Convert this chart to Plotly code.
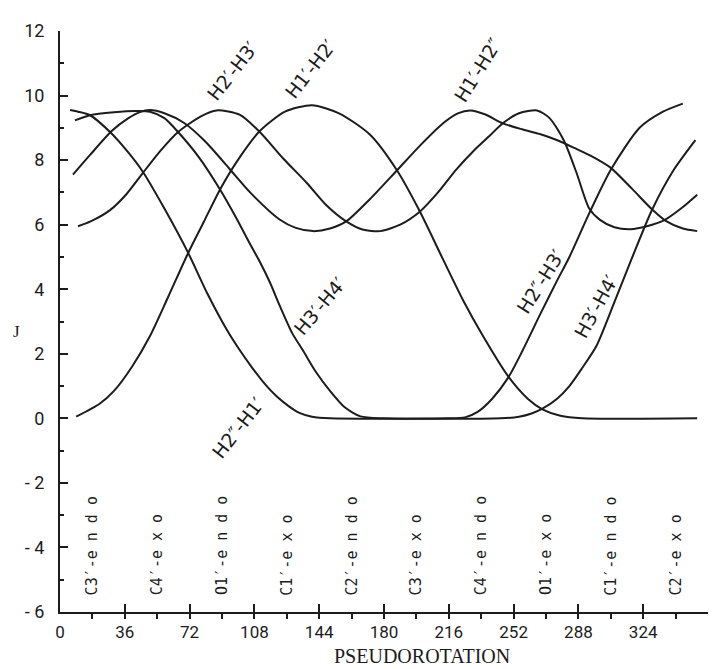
import plotly.graph_objects as go

# ---- data (P in degrees, J in Hz) ----
h1h2_P = [9, 22, 30, 40, 50, 60, 71, 80, 89, 100, 111, 125, 140, 155, 172, 187, 200, 213, 224, 235, 249, 260, 268, 278, 290, 354]
h1h2_J = [0.05, 0.45, 0.85, 1.6, 2.55, 3.75, 5.1, 6.1, 7.1, 8.1, 8.9, 9.5, 9.7, 9.45, 8.8, 7.7, 6.4, 4.9, 3.65, 2.55, 1.3, 0.6, 0.28, 0.08, 0, 0]

h2bh3_P = [5.6, 10, 16.7, 27.8, 37, 46, 58, 71, 82, 92.6, 100, 107, 114, 120, 127, 133, 140, 150, 215, 225, 232, 240, 249, 257, 267, 276, 283, 294, 306, 322, 335, 346]
h2bh3_J = [9.55, 9.5, 9.39, 8.87, 8.3, 7.64, 6.5, 5.15, 3.85, 2.75, 2.1, 1.55, 1.05, 0.7, 0.38, 0.17, 0.05, 0, 0, 0.03, 0.2, 0.6, 1.26, 2.1, 3.25, 4.25, 5.0, 6.35, 7.7, 9.0, 9.5, 9.75]

h3h4_P = [8.3, 16.7, 30, 42, 50, 58, 65.6, 77, 88.9, 98, 105.6, 111, 116.7, 122, 129, 135, 142, 150, 158, 167, 180, 245, 255, 262, 268, 276, 283, 290, 298, 308, 318, 329, 341, 353]
h3h4_J = [9.23, 9.39, 9.48, 9.52, 9.5, 9.3, 8.87, 8.1, 7.09, 6.2, 5.4, 4.85, 4.2, 3.5, 2.64, 2.1, 1.45, 0.85, 0.35, 0.06, 0, 0, 0.05, 0.15, 0.3, 0.6, 1.0, 1.55, 2.24, 3.6, 5.0, 6.47, 7.7, 8.62]

h1h2b_P = [7.2, 16.7, 28.7, 38, 44, 50, 58, 69, 81, 94, 105.6, 122, 131, 140.6, 150, 159, 172, 187, 200, 213, 221, 228, 236, 246, 257, 267, 277, 286, 296, 306, 318, 329, 337, 346, 354]
h1h2b_J = [7.55, 8.16, 8.9, 9.3, 9.48, 9.55, 9.45, 9.15, 8.56, 7.74, 7.0, 6.16, 5.9, 5.8, 5.88, 6.1, 6.78, 7.67, 8.45, 9.15, 9.45, 9.54, 9.42, 9.14, 8.95, 8.8, 8.6, 8.37, 8.1, 7.76, 7.1, 6.47, 6.1, 5.88, 5.8]

h2h3_P = [10, 17, 27.8, 37, 46, 56, 65.6, 78, 87, 100, 111, 124, 137, 148, 159, 168, 178, 189, 200, 210, 220, 230, 239, 246, 255, 265, 272, 280, 287, 294, 300, 308, 317, 326, 336, 345, 354]
h2h3_J = [5.95, 6.1, 6.45, 6.95, 7.6, 8.3, 8.87, 9.35, 9.54, 9.4, 8.87, 8.05, 7.3, 6.6, 6.1, 5.85, 5.8, 6.0, 6.41, 7.0, 7.7, 8.3, 8.77, 9.14, 9.45, 9.54, 9.3, 8.6, 7.6, 6.5, 6.15, 5.92, 5.86, 5.95, 6.15, 6.5, 6.93]

x_ticks = [0, 36, 72, 108, 144, 180, 216, 252, 288, 324, 360]
y_ticks = [-6, -4, -2, 0, 2, 4, 6, 8, 10, 12]
y_ticktext = ["- 6", "- 4", "- 2", "0", "2", "4", "6", "8", "10", "12"]

conf_P = [18, 54, 90, 126, 162, 198, 234, 270, 306, 342]
conf_names = ["C3′-e n d o", "C4′-e x o", "O1′-e n d o", "C1′-e x o", "C2′-e n d o",
              "C3′-e x o", "C4′-e n d o", "O1′-e x o", "C1′-e n d o", "C2′-e x o"]

curve_labels = ["H2′-H3′", "H1′-H2′", "H1′-H2″", "H3′-H4′", "H2″-H3′", "H3′-H4′", "H2″-H1′"]
label_P = [95.6, 138.9, 232, 144.4, 266.7, 298, 98.9]
label_J = [10.77, 10.83, 10.8, 3.47, 4.23, 3.47, -0.31]
label_angle = [-52, -52, -58, -50, -58, -61, -52]

INK = "#1c1c1c"

fig = go.Figure()
for P, J in [(h1h2_P, h1h2_J), (h2bh3_P, h2bh3_J), (h3h4_P, h3h4_J),
             (h1h2b_P, h1h2b_J), (h2h3_P, h2h3_J)]:
    fig.add_trace(go.Scatter(x=P, y=J, mode="lines",
                             line=dict(color=INK, width=2, shape="spline", smoothing=0.7),
                             showlegend=False, hoverinfo="skip"))

for t, p, j, a in zip(curve_labels, label_P, label_J, label_angle):
    fig.add_annotation(x=p, y=j, text=t, textangle=a, showarrow=False,
                       font=dict(family="DejaVu Sans", size=19, color=INK))

for t, p in zip(conf_names, conf_P):
    fig.add_annotation(x=p, y=-5.55, text=t, textangle=-90, showarrow=False,
                       xanchor="center", yanchor="bottom",
                       font=dict(family="DejaVu Sans Mono", size=15, color=INK))

fig.add_annotation(xref="paper", x=-0.075, y=2.7, text="J", showarrow=False,
                   font=dict(family="Liberation Serif", size=17, color=INK))
fig.add_annotation(xref="x", yref="paper", x=201, y=-0.075, text="PSEUDOROTATION",
                   showarrow=False, yanchor="middle",
                   font=dict(family="Liberation Serif", size=20, color=INK))

fig.update_xaxes(range=[0, 360], tickvals=x_ticks, ticks="inside", ticklen=8, tickwidth=2,
                 tickcolor=INK, showline=True, linecolor=INK, linewidth=2,
                 showgrid=False, zeroline=False, ticklabelstandoff=4,
                 tickfont=dict(family="Roboto", size=17, color=INK),
                 minor=dict(tick0=0, dtick=18, ticks="outside", ticklen=5, tickwidth=1.5,
                            tickcolor=INK, showgrid=False))
fig.update_yaxes(range=[-6, 12], tickvals=y_ticks, ticktext=y_ticktext, ticks="inside",
                 ticklen=8, tickwidth=2, tickcolor=INK, showline=True,
                 linecolor=INK, linewidth=2, showgrid=False, zeroline=False,
                 ticklabelstandoff=10,
                 tickfont=dict(family="Roboto", size=18, color=INK),
                 minor=dict(tick0=0, dtick=1, ticks="inside", ticklen=4, tickwidth=1.5,
                            tickcolor=INK, showgrid=False))

# the page has an 8px body margin, so the figure is sized to fit the 721x669 window
fig.update_layout(width=713, height=661, plot_bgcolor="white", paper_bgcolor="white",
                  margin=dict(l=52, r=13, t=17, b=57))

fig.write_html("out.html")
